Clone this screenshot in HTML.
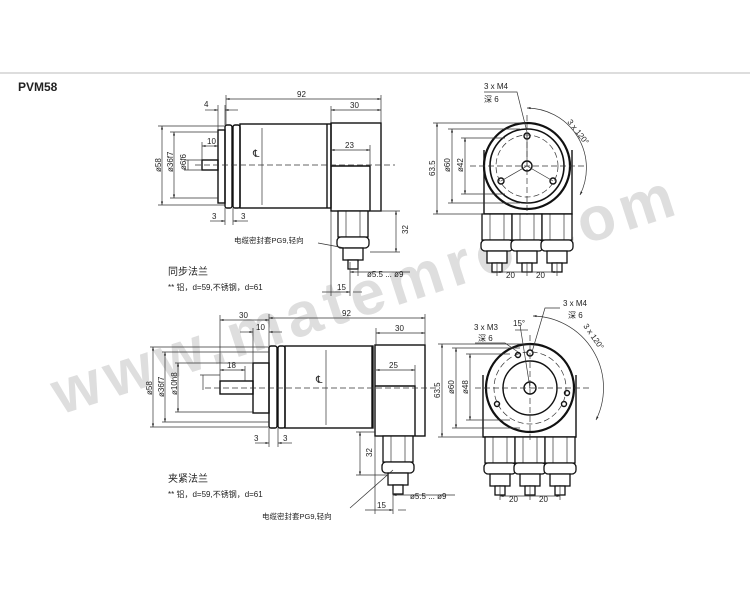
<!DOCTYPE html>
<html><head><meta charset="utf-8"><style>
html,body{margin:0;padding:0;background:#fff}
svg{display:block}
text{font-family:"Liberation Sans","Noto Sans CJK SC",sans-serif;fill:#222}
</style></head><body>
<svg width="750" height="605" viewBox="0 0 750 605" xmlns="http://www.w3.org/2000/svg">
<defs>
<g id="gl" stroke="#111" fill="#fff" stroke-width="1.3">
<rect x="-15" y="0" width="30" height="26"/>
<line x1="-7" y1="0" x2="-7" y2="26" stroke-width="0.6"/><line x1="7" y1="0" x2="7" y2="26" stroke-width="0.6"/>
<rect x="-16" y="26" width="32" height="11" rx="4"/>
<rect x="-10" y="37" width="20" height="12"/>
<rect x="-5" y="49" width="10" height="9"/>
</g>
<marker id="a" viewBox="0 0 10 10" refX="10" refY="5" markerWidth="5" markerHeight="5" orient="auto-start-reverse"><path d="M0,2 L10,5 L0,8z" fill="#222"/></marker>
</defs>
<line x1="0" y1="73" x2="750" y2="73" stroke="#bbb"/>
<text x="18" y="91" font-size="12" font-weight="bold">PVM58</text>

<!-- watermark -->
<text x="60" y="415" font-size="62" transform="rotate(-18 60 415)" style="fill:#dedede" font-weight="bold" letter-spacing="6">www.matemro.com</text>

<g stroke="#111" fill="none" stroke-width="1.4">
<!-- TOP SIDE VIEW -->
<rect x="202" y="160" width="16" height="10"/>
<rect x="218" y="130" width="7" height="73"/>
<rect x="225" y="125" width="7" height="83" rx="2"/>
<rect x="233" y="125" width="7" height="83" rx="2"/>
<rect x="240" y="124" width="91" height="84"/>
<line x1="327" y1="124" x2="327" y2="208"/>
<rect x="331" y="123" width="50" height="88"/>
<polyline points="331,166 370,166 370,211"/>
<!-- BOTTOM SIDE VIEW -->
<rect x="220" y="381" width="33" height="13"/>
<rect x="253" y="363" width="16" height="50"/>
<rect x="269" y="346" width="8" height="82" rx="2"/>
<rect x="278" y="346" width="7" height="82" rx="2"/>
<rect x="285" y="346" width="88" height="82"/>
<line x1="372" y1="346" x2="372" y2="428"/>
<rect x="375" y="345" width="50" height="91"/>
<polyline points="375,386 415,386 415,436"/>
<!-- TOP RIGHT FRONT -->
<path d="M484,150 L484,214 L572,214 L572,150"/>
<circle cx="527" cy="166" r="43" fill="#fff" stroke-width="2.2"/>
<circle cx="527" cy="166" r="37" stroke-width="1.6"/>
<circle cx="527" cy="166" r="5"/>
<circle cx="527" cy="136" r="3"/><circle cx="501" cy="181" r="3"/><circle cx="553" cy="181" r="3"/>
<!-- BOTTOM RIGHT FRONT -->
<path d="M483,375 L483,437 L576,437 L576,375"/>
<circle cx="530" cy="388" r="44" fill="#fff" stroke-width="2.2"/>
<circle cx="530" cy="388" r="27" stroke-width="1.4"/>
<circle cx="530" cy="388" r="6"/>
<circle cx="518" cy="355" r="2.5"/><circle cx="530" cy="353" r="3"/><circle cx="567" cy="393" r="2.5"/><circle cx="497" cy="404" r="2.5"/><circle cx="564" cy="404" r="2.5"/>
</g>
<!-- glands -->
<use href="#gl" x="353" y="211"/>
<use href="#gl" x="398" y="436"/>
<use href="#gl" x="497" y="214"/><use href="#gl" x="527" y="214"/><use href="#gl" x="557" y="214"/>
<use href="#gl" x="500" y="437"/><use href="#gl" x="530" y="437"/><use href="#gl" x="560" y="437"/>

<!-- thin/dim lines -->
<g stroke="#333" stroke-width="0.7" fill="none">
<g stroke-dasharray="6,3"><line x1="195" y1="165" x2="395" y2="165"/><line x1="205" y1="388" x2="440" y2="388"/>
<line x1="470" y1="166" x2="585" y2="166"/><line x1="527" y1="115" x2="527" y2="215"/>
<line x1="475" y1="388" x2="590" y2="388"/><line x1="530" y1="335" x2="530" y2="440"/>
<circle cx="527" cy="166" r="31"/><circle cx="530" cy="388" r="36"/></g>
<line x1="527" y1="166" x2="527" y2="136"/><line x1="527" y1="166" x2="501" y2="181"/><line x1="527" y1="166" x2="553" y2="181"/>
<!-- top side dims -->
<line x1="226" y1="99" x2="381" y2="99" marker-start="url(#a)" marker-end="url(#a)"/>
<line x1="226" y1="95" x2="226" y2="125"/><line x1="381" y1="95" x2="381" y2="123"/>
<line x1="331" y1="110" x2="381" y2="110" marker-start="url(#a)" marker-end="url(#a)"/><line x1="331" y1="106" x2="331" y2="123"/>
<line x1="205" y1="110" x2="218" y2="110" marker-end="url(#a)"/><line x1="225" y1="110" x2="238" y2="110" marker-start="url(#a)"/><line x1="218" y1="105" x2="218" y2="130"/><line x1="225" y1="105" x2="225" y2="125"/>
<line x1="331" y1="150" x2="370" y2="150" marker-start="url(#a)" marker-end="url(#a)"/><line x1="370" y1="145" x2="370" y2="166"/>
<line x1="202" y1="146" x2="218" y2="146" marker-start="url(#a)" marker-end="url(#a)"/><line x1="202" y1="142" x2="202" y2="160"/>
<line x1="162" y1="126" x2="162" y2="205" marker-start="url(#a)" marker-end="url(#a)"/><line x1="158" y1="126" x2="225" y2="126"/><line x1="158" y1="205" x2="225" y2="205"/>
<line x1="174" y1="132" x2="174" y2="198" marker-start="url(#a)" marker-end="url(#a)"/><line x1="170" y1="132" x2="218" y2="132"/><line x1="170" y1="198" x2="218" y2="198"/>
<line x1="188" y1="160" x2="188" y2="170"/><line x1="184" y1="160" x2="202" y2="160"/><line x1="184" y1="170" x2="202" y2="170"/>
<line x1="262" y1="128" x2="262" y2="205"/>
<line x1="210" y1="221" x2="225" y2="221" marker-end="url(#a)"/><line x1="233" y1="221" x2="248" y2="221" marker-start="url(#a)"/>
<line x1="225" y1="208" x2="225" y2="225"/><line x1="233" y1="208" x2="233" y2="225"/>
<line x1="396" y1="211" x2="396" y2="252" marker-start="url(#a)" marker-end="url(#a)"/><line x1="370" y1="211" x2="400" y2="211"/><line x1="370" y1="252" x2="400" y2="252"/>
<line x1="350" y1="272" x2="410" y2="272" marker-start="url(#a)"/>
<line x1="322" y1="292" x2="350" y2="292" marker-end="url(#a)"/><line x1="353" y1="292" x2="362" y2="292"/>
<line x1="331" y1="211" x2="331" y2="296"/><line x1="350" y1="262" x2="350" y2="296"/><line x1="358" y1="262" x2="358" y2="276"/>
<line x1="318" y1="243" x2="345" y2="248"/>
<!-- bottom side dims -->
<line x1="220" y1="320" x2="269" y2="320" marker-start="url(#a)" marker-end="url(#a)"/><line x1="220" y1="315" x2="220" y2="381"/>
<line x1="269" y1="318" x2="425" y2="318" marker-start="url(#a)" marker-end="url(#a)"/><line x1="269" y1="314" x2="269" y2="346"/><line x1="425" y1="314" x2="425" y2="345"/>
<line x1="240" y1="332" x2="253" y2="332" marker-end="url(#a)"/><line x1="269" y1="332" x2="282" y2="332" marker-start="url(#a)"/><line x1="253" y1="328" x2="253" y2="363"/>
<line x1="376" y1="333" x2="425" y2="333" marker-start="url(#a)" marker-end="url(#a)"/><line x1="376" y1="328" x2="376" y2="345"/>
<line x1="220" y1="370" x2="245" y2="370" marker-start="url(#a)" marker-end="url(#a)"/><line x1="245" y1="366" x2="245" y2="381"/>
<line x1="376" y1="370" x2="415" y2="370" marker-start="url(#a)" marker-end="url(#a)"/><line x1="415" y1="365" x2="415" y2="386"/>
<line x1="153" y1="347" x2="153" y2="427" marker-start="url(#a)" marker-end="url(#a)"/><line x1="150" y1="347" x2="269" y2="347"/><line x1="150" y1="427" x2="269" y2="427"/>
<line x1="165" y1="352" x2="165" y2="422" marker-start="url(#a)" marker-end="url(#a)"/><line x1="162" y1="352" x2="269" y2="352"/><line x1="162" y1="422" x2="269" y2="422"/>
<line x1="178" y1="363" x2="178" y2="412" marker-start="url(#a)" marker-end="url(#a)"/><line x1="175" y1="363" x2="253" y2="363"/><line x1="175" y1="412" x2="253" y2="412"/>
<line x1="203" y1="375" x2="203" y2="390"/><line x1="200" y1="375" x2="220" y2="375"/>
<line x1="326" y1="350" x2="326" y2="425"/>
<line x1="255" y1="443" x2="269" y2="443" marker-end="url(#a)"/><line x1="278" y1="443" x2="292" y2="443" marker-start="url(#a)"/>
<line x1="269" y1="428" x2="269" y2="447"/><line x1="278" y1="428" x2="278" y2="447"/>
<line x1="360" y1="432" x2="360" y2="475" marker-start="url(#a)" marker-end="url(#a)"/><line x1="356" y1="432" x2="375" y2="432"/><line x1="356" y1="475" x2="388" y2="475"/>
<line x1="393" y1="495" x2="455" y2="495" marker-start="url(#a)"/>
<line x1="365" y1="510" x2="393" y2="510" marker-end="url(#a)"/><line x1="398" y1="510" x2="406" y2="510"/>
<line x1="375" y1="436" x2="375" y2="514"/><line x1="393" y1="490" x2="393" y2="514"/>
<line x1="350" y1="508" x2="393" y2="470"/>
<!-- top right dims -->
<line x1="437" y1="123" x2="437" y2="214" marker-start="url(#a)" marker-end="url(#a)"/><line x1="433" y1="123" x2="527" y2="123"/><line x1="433" y1="214" x2="484" y2="214"/>
<line x1="452" y1="129" x2="452" y2="203" marker-start="url(#a)" marker-end="url(#a)"/><line x1="448" y1="129" x2="520" y2="129"/><line x1="448" y1="203" x2="520" y2="203"/>
<line x1="465" y1="138" x2="465" y2="194" marker-start="url(#a)" marker-end="url(#a)"/><line x1="461" y1="138" x2="505" y2="138"/><line x1="461" y1="194" x2="505" y2="194"/>
<line x1="497" y1="272" x2="557" y2="272" marker-start="url(#a)" marker-end="url(#a)"/><line x1="497" y1="262" x2="497" y2="276"/><line x1="527" y1="262" x2="527" y2="276"/><line x1="557" y1="262" x2="557" y2="276"/>
<polyline points="484,92 517,92 527,132"/>
<path d="M527,108 A60,60 0 0 1 580,195" marker-start="url(#a)" marker-end="url(#a)"/>
<!-- bottom right dims -->
<line x1="442" y1="344" x2="442" y2="437" marker-start="url(#a)" marker-end="url(#a)"/><line x1="438" y1="344" x2="530" y2="344"/><line x1="438" y1="437" x2="483" y2="437"/>
<line x1="456" y1="348" x2="456" y2="428" marker-start="url(#a)" marker-end="url(#a)"/><line x1="452" y1="348" x2="520" y2="348"/><line x1="452" y1="428" x2="520" y2="428"/>
<line x1="470" y1="354" x2="470" y2="420" marker-start="url(#a)" marker-end="url(#a)"/><line x1="466" y1="354" x2="510" y2="354"/><line x1="466" y1="420" x2="510" y2="420"/>
<line x1="500" y1="496" x2="560" y2="496" marker-start="url(#a)" marker-end="url(#a)"/><line x1="500" y1="485" x2="500" y2="500"/><line x1="530" y1="485" x2="530" y2="500"/><line x1="560" y1="485" x2="560" y2="500"/>
<polyline points="560,308 545,308 532,352"/>
<polyline points="475,343 505,343 518,352"/>
<path d="M533,316 A72,72 0 0 1 596,420" marker-start="url(#a)" marker-end="url(#a)"/>
<line x1="515" y1="330" x2="528" y2="330"/><line x1="520" y1="325" x2="530" y2="388"/>
</g>

<g font-size="8">
<text x="297" y="97">92</text><text x="350" y="108">30</text><text x="204" y="107">4</text>
<text x="345" y="148">23</text><text x="207" y="144">10</text>
<text x="212" y="219">3</text><text x="241" y="219">3</text>
<text x="253" y="157" font-size="10">℄</text>
<text x="408" y="234" transform="rotate(-90 408 234)">32</text>
<text x="161" y="172" transform="rotate(-90 161 172)">ø58</text>
<text x="173" y="172" transform="rotate(-90 173 172)">ø36f7</text>
<text x="186" y="170" transform="rotate(-90 186 170)">ø6f6</text>
<text x="367" y="277">ø5.5 ... ø9</text><text x="337" y="290">15</text>
<text x="234" y="243" font-size="7.5">电缆密封套PG9,轻向</text>
<text x="168" y="275" font-size="10">同步法兰</text>
<text x="168" y="290">** 铝，d=59,不锈钢，d=61</text>

<text x="239" y="318">30</text><text x="342" y="316">92</text><text x="256" y="330">10</text><text x="395" y="331">30</text>
<text x="227" y="368">18</text><text x="389" y="368">25</text>
<text x="254" y="441">3</text><text x="283" y="441">3</text>
<text x="316" y="383" font-size="10">℄</text>
<text x="372" y="457" transform="rotate(-90 372 457)">32</text>
<text x="152" y="395" transform="rotate(-90 152 395)">ø58</text>
<text x="164" y="397" transform="rotate(-90 164 397)">ø36f7</text>
<text x="177" y="395" transform="rotate(-90 177 395)">ø10h8</text>
<text x="410" y="499">ø5.5 ... ø9</text><text x="377" y="508">15</text>
<text x="262" y="519" font-size="7.5">电缆密封套PG9,轻向</text>
<text x="168" y="482" font-size="10">夹紧法兰</text>
<text x="168" y="497">** 铝，d=59,不锈钢，d=61</text>

<text x="484" y="89">3 x M4</text><text x="484" y="102">深 6</text>
<text x="567" y="122" transform="rotate(52 567 122)">3 x 120°</text>
<text x="435" y="176" transform="rotate(-90 435 176)">63.5</text>
<text x="450" y="172" transform="rotate(-90 450 172)">ø60</text>
<text x="463" y="172" transform="rotate(-90 463 172)">ø42</text>
<text x="506" y="278">20</text><text x="536" y="278">20</text>

<text x="563" y="306">3 x M4</text><text x="568" y="318">深 6</text>
<text x="474" y="330">3 x M3</text><text x="478" y="341">深 6</text>
<text x="513" y="326">15°</text>
<text x="583" y="326" transform="rotate(55 583 326)">3 x 120°</text>
<text x="440" y="398" transform="rotate(-90 440 398)">63.5</text>
<text x="454" y="394" transform="rotate(-90 454 394)">ø60</text>
<text x="468" y="394" transform="rotate(-90 468 394)">ø48</text>
<text x="509" y="502">20</text><text x="539" y="502">20</text>
</g>
</svg>
</body></html>
